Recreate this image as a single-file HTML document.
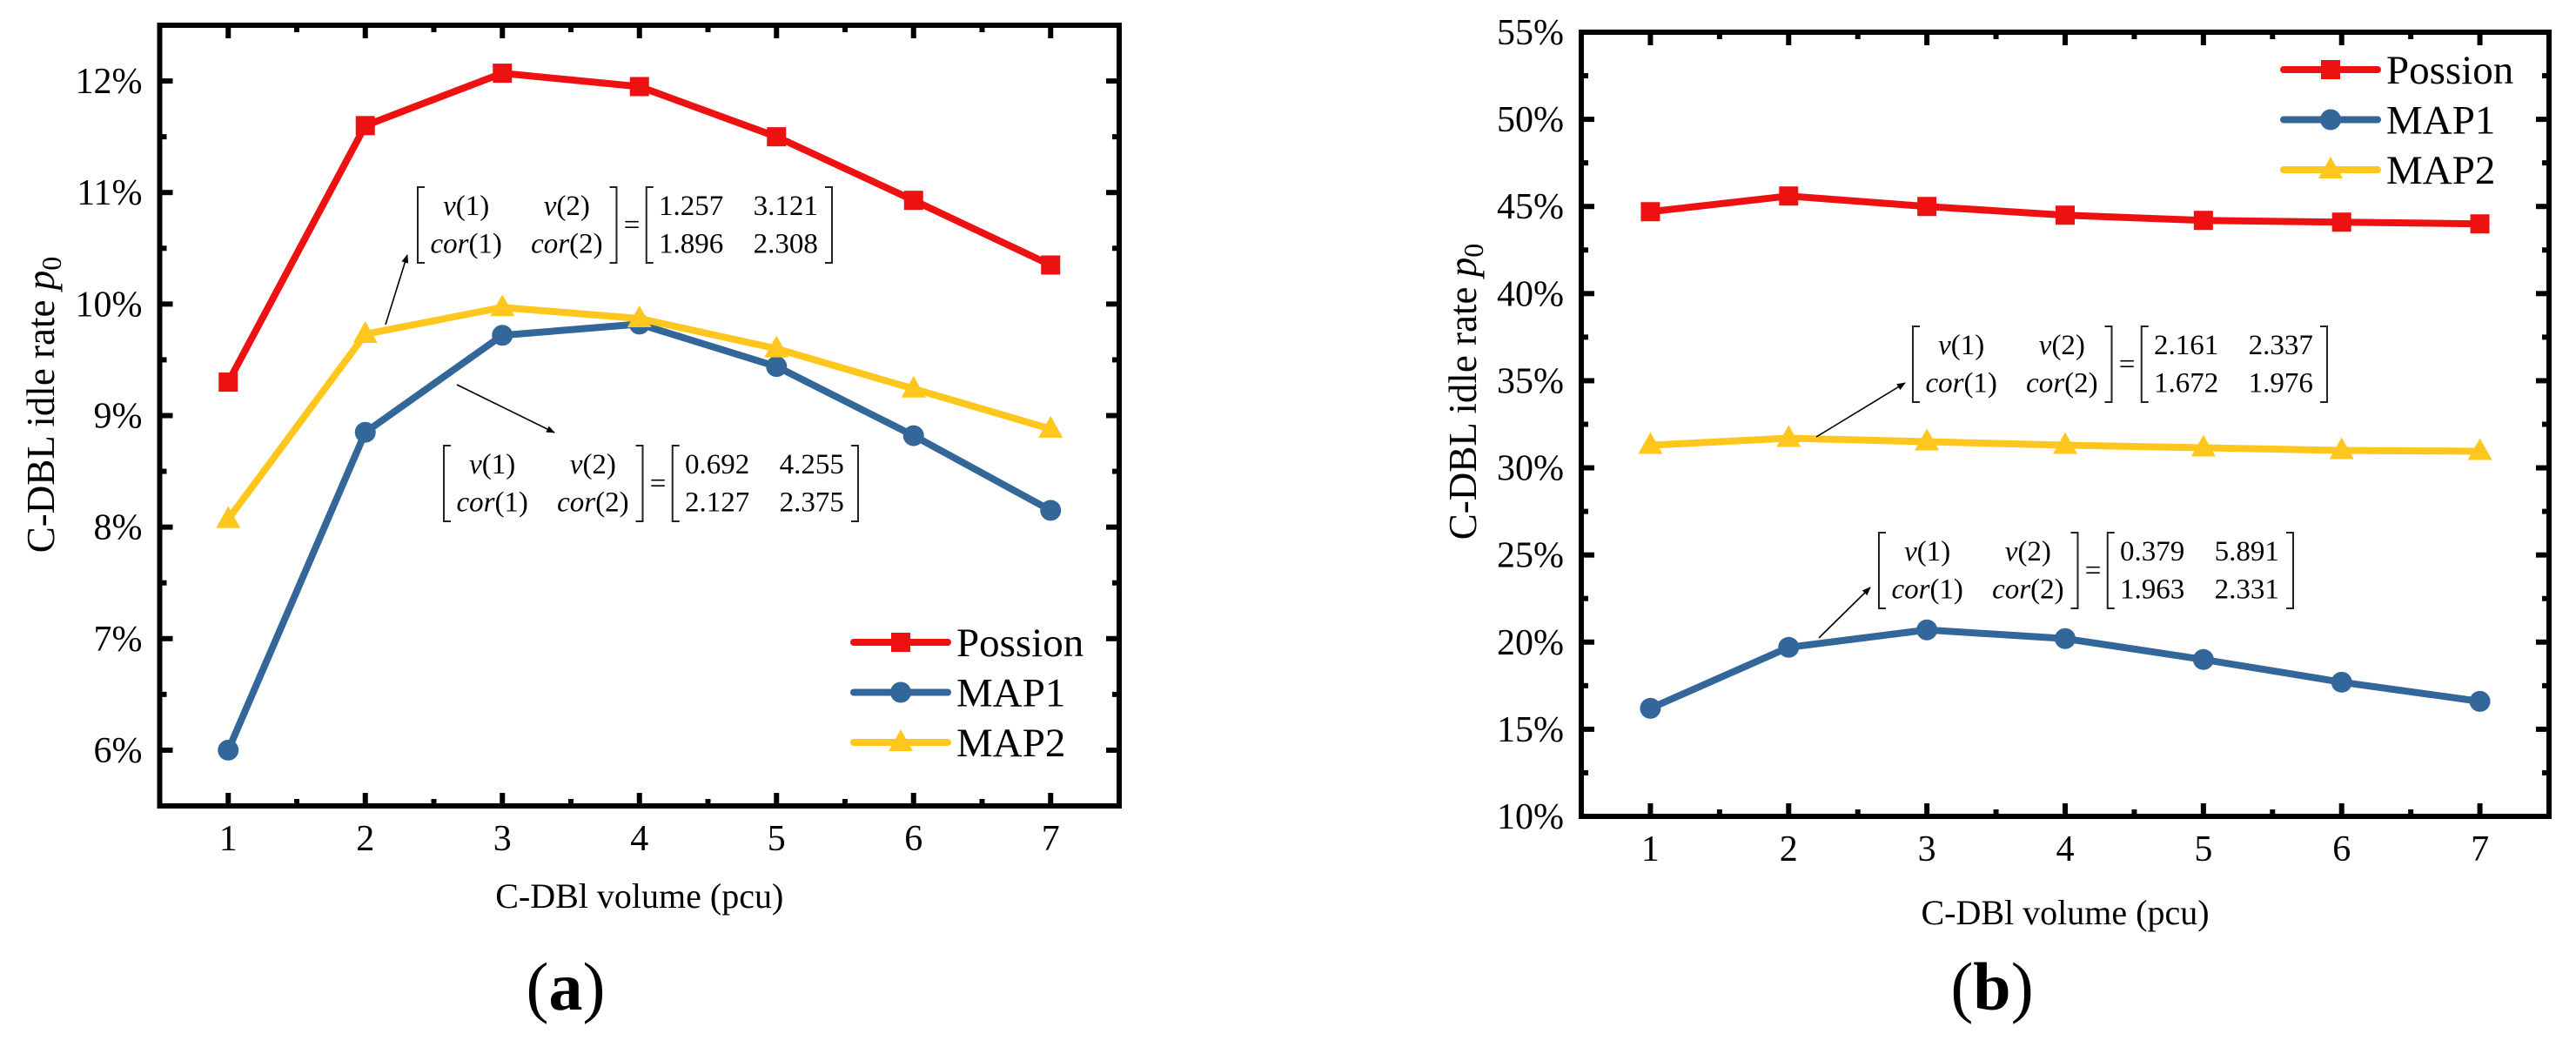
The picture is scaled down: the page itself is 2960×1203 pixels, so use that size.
<!DOCTYPE html>
<html><head><meta charset="utf-8">
<style>
html,body{margin:0;padding:0;background:#fff;}
svg, svg text{font-family:"Liberation Serif","Times New Roman",serif;}
</style></head>
<body>
<svg id="fig" xmlns="http://www.w3.org/2000/svg" width="2960" height="1198" viewBox="0 0 2960 1198" font-family="Liberation Serif, serif">
<defs>
<marker id="ah" markerWidth="10" markerHeight="8" refX="9" refY="4" orient="auto" markerUnits="userSpaceOnUse" viewBox="0 0 10 8">
<path d="M0,0 L10,4 L0,8 Z" fill="#000"/>
</marker>
</defs>
</svg>
<script>
const categories=[1,2,3,4,5,6,7];
const seriesNames=["Possion","MAP1","MAP2"];
const aPossion=[9.3,11.6,12.07,11.95,11.5,10.93,10.35];
const aMAP1=[6.0,8.85,9.72,9.82,9.44,8.82,8.15];
const aMAP2=[8.07,9.73,9.97,9.87,9.6,9.24,8.88];
const bPossion=[44.7,45.6,45.0,44.5,44.2,44.1,44.0];
const bMAP1=[16.2,19.7,20.7,20.2,19.0,17.7,16.6];
const bMAP2=[31.3,31.7,31.5,31.3,31.15,31.0,30.95];
const aYTicks=[6,7,8,9,10,11,12];
const bYTicks=[10,15,20,25,30,35,40,45,50,55];

const NS="http://www.w3.org/2000/svg";
const svg=document.getElementById('fig');
function mk(tag,attrs,parent,text){const e=document.createElementNS(NS,tag);for(const k in attrs)e.setAttribute(k,attrs[k]);if(text!==undefined)e.textContent=text;(parent||svg).appendChild(e);return e;}
const COLORS={Possion:"#ee1111",MAP1:"#336699",MAP2:"#ffc61e"};
const FF="Liberation Serif, serif";

function panel(cfg){
  const g=mk('g',{'font-family':FF});
  
  
  const X=v=>cfg.L+(v-cfg.xmin)/(cfg.xmax-cfg.xmin)*(cfg.R-cfg.L);
  const Y=v=>cfg.B-(v-cfg.ymin)/(cfg.ymax-cfg.ymin)*(cfg.B-cfg.T);
  const tg=mk('g',{stroke:'#000','stroke-width':6},g);
  
  
  for(let v=cfg.xmin+0.5;v<=cfg.xmax;v+=0.5){
    const maj=Math.abs(v-Math.round(v))<1e-6;const len=maj?15:8;
    mk('line',{x1:X(v),x2:X(v),y1:cfg.B,y2:cfg.B-len},tg);
    mk('line',{x1:X(v),x2:X(v),y1:cfg.T,y2:cfg.T+len},tg);
  }
  const step=cfg.yt[1]-cfg.yt[0];
  for(let v=cfg.ymin;v<=cfg.ymax+1e-6;v+=step/2){
    const maj=cfg.yt.some(t=>Math.abs(t-v)<1e-6);const len=maj?15:8;
    mk('line',{x1:cfg.L,x2:cfg.L+len,y1:Y(v),y2:Y(v)},tg);
    mk('line',{x1:cfg.R,x2:cfg.R-len,y1:Y(v),y2:Y(v)},tg);
  }
  const fr=mk('rect',{x:cfg.L,y:cfg.T,width:cfg.R-cfg.L,height:cfg.B-cfg.T,fill:'none',stroke:'#000','stroke-width':6},g);
  
  
  cfg.yt.forEach(t=>{
    const e=mk('text',{x:cfg.L-20,y:Y(t)+14,'font-size':42,'text-anchor':'end'},g,t+'%');
    
    
  });
  categories.forEach(c=>{
    const e=mk('text',{x:X(c),y:cfg.B+51,'font-size':42,'text-anchor':'middle'},g,String(c));
    
    
  });
  const xt=mk('text',{x:(cfg.L+cfg.R)/2,y:cfg.xtY,'font-size':40,'text-anchor':'middle'},g,'C-DBl volume (pcu)');
  
  
  const yt=mk('text',{x:0,y:0,'font-size':45,'text-anchor':'middle',transform:`translate(${cfg.ytX},${cfg.ytC}) rotate(-90)`},g);
  
  
  mk('tspan',{},yt,'C-DBL idle rate ');
  mk('tspan',{'font-style':'italic'},yt,'p');
  mk('tspan',{'font-size':32,dy:8},yt,'0');
  cfg.series.forEach(([nm,vals])=>{
    const sg=mk('g',{},g);
    
    
    const pts=vals.map((v,i)=>X(categories[i])+','+Y(v)).join(' ');
    mk('polyline',{points:pts,fill:'none',stroke:COLORS[nm],'stroke-width':8,'stroke-linejoin':'round'},sg);
    vals.forEach((v,i)=>marker(sg,nm,X(categories[i]),Y(v)));
  });
  seriesNames.forEach((nm,i)=>{
    const lg=mk('g',{},g);
    
    
    const y=cfg.legY+i*57.5;
    mk('line',{x1:cfg.legX,x2:cfg.legX+108,y1:y,y2:y,stroke:COLORS[nm],'stroke-width':8,'stroke-linecap':'round'},lg);
    marker(lg,nm,cfg.legX+54,y);
    mk('text',{x:cfg.legX+118,y:y+16,'font-size':47},lg,nm);
  });
}
function marker(p,nm,x,y){
  const c=COLORS[nm];
  if(nm==='Possion') mk('rect',{x:x-11,y:y-11,width:22,height:22,fill:c},p);
  else if(nm==='MAP1') mk('circle',{cx:x,cy:y,r:12,fill:c},p);
  else mk('path',{d:`M${x},${y-15} L${x+14},${y+10} L${x-14},${y+10} Z`,fill:c},p);
}
function matrix(name,x0,y0,vals){
  const w=476,h=87;
  const g=mk('g',{'font-size':33,'font-family':FF},svg);
  
  
  const br=(xa,open)=>{const d=open?8:-8;mk('path',{d:`M${xa+d},${y0} L${xa},${y0} L${xa},${y0+h} L${xa+d},${y0+h}`,fill:'none',stroke:'#222','stroke-width':2},g);};
  br(x0,true);br(x0+w*0.48,false);br(x0+w*0.552,true);br(x0+w,false);
  const r1=y0+h*0.37,r2=y0+h*0.87;
  const lab=(cx,cy,nm,arg)=>{const t=mk('text',{x:cx,y:cy,'text-anchor':'middle'},g);mk('tspan',{'font-style':'italic'},t,nm);mk('tspan',{},t,'('+arg+')');};
  lab(x0+w*0.117,r1,'v','1');lab(x0+w*0.36,r1,'v','2');
  lab(x0+w*0.117,r2,'cor','1');lab(x0+w*0.36,r2,'cor','2');
  mk('text',{x:x0+w*0.517,y:y0+h*0.62,'text-anchor':'middle'},g,'=');
  mk('text',{x:x0+w*0.66,y:r1,'text-anchor':'middle'},g,vals[0]);
  mk('text',{x:x0+w*0.888,y:r1,'text-anchor':'middle'},g,vals[1]);
  mk('text',{x:x0+w*0.66,y:r2,'text-anchor':'middle'},g,vals[2]);
  mk('text',{x:x0+w*0.888,y:r2,'text-anchor':'middle'},g,vals[3]);
}
function arrow(name,x1,y1,x2,y2){
  const a=mk('line',{x1,y1,x2,y2,stroke:'#000','stroke-width':1.6,'marker-end':'url(#ah)'});
  
  
}

panel({name:'chart-a',L:183.5,R:1286,T:29,B:926,xmin:0.5,xmax:7.5,ymin:5.5,ymax:12.5,yt:aYTicks,
  series:[["Possion",aPossion],["MAP1",aMAP1],["MAP2",aMAP2]],legX:981,legY:738,ytX:62,ytC:465,xtY:1043});
panel({name:'chart-b',L:1817,R:2929,T:37,B:938,xmin:0.5,xmax:7.5,ymin:10,ymax:55,yt:bYTicks,
  series:[["Possion",bPossion],["MAP1",bMAP1],["MAP2",bMAP2]],legX:2624,legY:80,ytX:1696,ytC:450,xtY:1062});

matrix('matrix-annotation-a-map2',480,215,['1.257','3.121','1.896','2.308']);
matrix('matrix-annotation-a-map1',510,512,['0.692','4.255','2.127','2.375']);
matrix('matrix-annotation-b-map2',2198,375,['2.161','2.337','1.672','1.976']);
matrix('matrix-annotation-b-map1',2159,612,['0.379','5.891','1.963','2.331']);
arrow('arrow-a-map2',443,373,468,293);
arrow('arrow-a-map1',525,442,637,497);
arrow('arrow-b-map2',2087,502,2189,440);
arrow('arrow-b-map1',2090,733,2149,675);

[['panel-label-a',650,'a'],['panel-label-b',2289,'b']].forEach(([n,x,l])=>{
  const t=mk('text',{x:x,y:1160,'font-size':78,'text-anchor':'middle','font-family':FF});
  
  
  mk('tspan',{},t,'(');mk('tspan',{'font-weight':'bold'},t,l);mk('tspan',{},t,')');
});
</script>
</body></html>
